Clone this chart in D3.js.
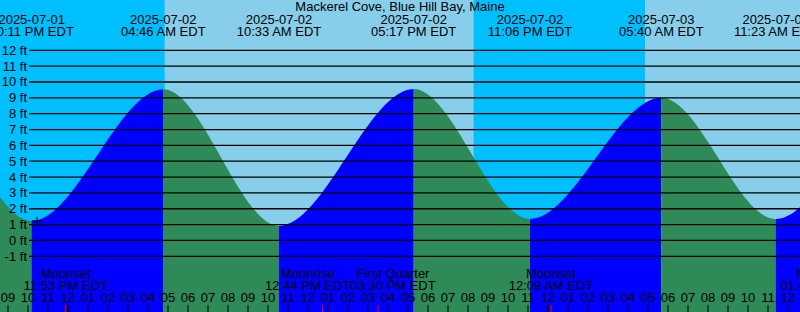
<!DOCTYPE html>
<html>
<head>
<meta charset="utf-8">
<script src="https://cdn.jsdelivr.net/npm/d3@7"></script>
<style>
  html, body { margin: 0; padding: 0; background: #fff; }
  svg { display: block; }
  text { font-family: "Liberation Sans", Arial, sans-serif; fill: #000; }
</style>
</head>
<body>
<div id="chart"></div>
<script>
// ---- data ----
const title = "Mackerel Cove, Blue Hill Bay, Maine";
const viewStart = "2025-07-01 20:36";
const viewEnd = "2025-07-03 12:36";

// tide extremes (EDT); first two and last two lie outside the view
const tideTimes = ["2025-07-01 10:10", "2025-07-01 16:26", "2025-07-01 22:11", "2025-07-02 04:46",
                   "2025-07-02 10:33", "2025-07-02 17:17", "2025-07-02 23:06", "2025-07-03 05:40",
                   "2025-07-03 11:23", "2025-07-03 17:58", "2025-07-04 00:02"];
const tideHeights = [0.9, 9.4, 1.22, 9.54, 0.92, 9.56, 1.35, 9.0, 1.35, 9.6, 1.5];

// sun events
const sunsetTimes = ["2025-07-01 20:17", "2025-07-02 20:17"];
const sunriseTimes = ["2025-07-02 04:50", "2025-07-03 04:51"];

// moon events
const moonNames = ["Moonset", "Moonrise", "First Quarter", "Moonset", "Moonrise"];
const moonTimes = ["2025-07-01 23:53", "2025-07-02 12:44", "2025-07-02 15:30", "2025-07-03 00:09", "2025-07-03 13:45"];

// current-time marker
const markerTime = "2025-07-01 22:27";
const markerHeight = 1.24;

// y axis
const yTicks = [-1, 0, 1, 2, 3, 4, 5, 6, 7, 8, 9, 10, 11, 12];

// ---- colours ----
const nightSky = "#00BFFF", daySky = "#87CEEB";
const risingWater = "#0000FF", fallingWater = "#2E8B57";

// ---- chart ----
const W = 800, H = 312;
const parse = d3.utcParse("%Y-%m-%d %H:%M");
const fmtDate = d3.utcFormat("%Y-%m-%d");
const fmtTime = d3.utcFormat("%I:%M %p EDT");
const fmtHour = d3.utcFormat("%I");

const t0 = parse(viewStart), t1 = parse(viewEnd);
const x = d3.scaleUtc().domain([t0, t1]).range([0, W]);
const y = d3.scaleLinear().domain([-1, 12]).range([256.3, 50.3]);

const tides = tideTimes.map((t, i) => ({ t: parse(t), h: tideHeights[i] }));

const svg = d3.select("#chart").append("svg").attr("width", W).attr("height", H);
const defs = svg.append("defs");
defs.append("clipPath").attr("id", "view").append("rect").attr("width", W).attr("height", H);
const root = svg.append("g").attr("clip-path", "url(#view)");

// sky: day everywhere, night bands from sunset to sunrise
root.append("rect").attr("x", 0).attr("y", 0).attr("width", W).attr("height", H).attr("fill", daySky);
sunsetTimes.forEach((s, i) => {
  const a = x(parse(s)), b = x(parse(sunriseTimes[i]));
  root.append("rect").attr("x", a).attr("y", 0).attr("width", b - a).attr("height", H).attr("fill", nightSky);
});

// water: area under tide curve, coloured by rising / falling segments
const area = d3.area()
  .x(d => x(d.t))
  .y0(H)
  .y1(d => y(d.h))
  .curve(d3.curveMonotoneX);
const areaPath = area(tides);
for (let i = 0; i < tides.length - 1; i++) {
  const a = x(tides[i].t), b = x(tides[i + 1].t);
  const id = "seg" + i;
  defs.append("clipPath").attr("id", id).append("rect")
    .attr("x", a).attr("y", 0).attr("width", b - a).attr("height", H);
  root.append("path").attr("d", areaPath)
    .attr("clip-path", `url(#${id})`)
    .attr("fill", tides[i + 1].h > tides[i].h ? risingWater : fallingWater);
}

// gridlines + labels
const gridX0 = 29;
yTicks.forEach(v => {
  root.append("line")
    .attr("x1", gridX0).attr("x2", W)
    .attr("y1", y(v)).attr("y2", y(v))
    .attr("stroke", "#000").attr("stroke-width", 1.3);
  root.append("text")
    .attr("x", 27).attr("y", y(v) + 4.5)
    .attr("text-anchor", "end")
    .attr("font-size", 13)
    .text(v + " ft");
});

// current time marker
const mx = x(parse(markerTime)), my = y(markerHeight);
root.append("path")
  .attr("d", `M${mx - 5},${my}H${mx + 5}M${mx},${my - 4}V${my + 4}`)
  .attr("stroke", "#000").attr("stroke-width", 1).attr("fill", "none");

// title
root.append("text").attr("x", W / 2).attr("y", 11)
  .attr("text-anchor", "middle").attr("font-size", 13).text(title);

// tide extreme labels
tides.forEach(d => {
  const cx = x(d.t);
  if (cx < -60 || cx > W + 60) return;
  root.append("text").attr("x", cx).attr("y", 24)
    .attr("text-anchor", "middle").attr("font-size", 13).text(fmtDate(d.t));
  root.append("text").attr("x", cx).attr("y", 36)
    .attr("text-anchor", "middle").attr("font-size", 13).text(fmtTime(d.t));
});

// moon labels (pushed apart when they would collide)
const moonGroups = moonNames.map((n, i) => {
  const t = parse(moonTimes[i]);
  const g = root.append("g");
  const a = g.append("text").attr("x", 0).attr("y", 278)
    .attr("text-anchor", "middle").attr("font-size", 13).text(n);
  const b = g.append("text").attr("x", 0).attr("y", 290)
    .attr("text-anchor", "middle").attr("font-size", 13).text(fmtTime(t));
  const w = Math.max(a.node().getComputedTextLength(), b.node().getComputedTextLength());
  return { g, cx: x(t), w };
});
for (let iter = 0; iter < 20; iter++) {
  for (let i = 0; i < moonGroups.length - 1; i++) {
    const p = moonGroups[i], q = moonGroups[i + 1];
    const need = (p.w + q.w) / 2;
    const gap = q.cx - p.cx;
    if (gap < need) {
      const d = (need - gap) / 2;
      p.cx -= d; q.cx += d;
    }
  }
}
moonGroups.forEach(m => m.g.attr("transform", `translate(${m.cx},0)`));

// hour axis
const hours = d3.utcHour.range(d3.utcHour.ceil(t0), t1);
hours.forEach(h => {
  const hx = x(h);
  const midnight = h.getUTCHours() === 0;
  root.append("line")
    .attr("x1", hx).attr("x2", hx).attr("y1", 305).attr("y2", H)
    .attr("stroke", "#000").attr("stroke-width", midnight ? 2 : 1);
  root.append("text").attr("x", hx).attr("y", 302)
    .attr("text-anchor", "middle").attr("font-size", 13).text(fmtHour(h));
});
moonTimes.forEach(t => {
  const mxx = x(parse(t));
  root.append("line")
    .attr("x1", mxx).attr("x2", mxx).attr("y1", 305).attr("y2", H)
    .attr("stroke", "#FF0000").attr("stroke-width", 1);
});
</script>
</body>
</html>
